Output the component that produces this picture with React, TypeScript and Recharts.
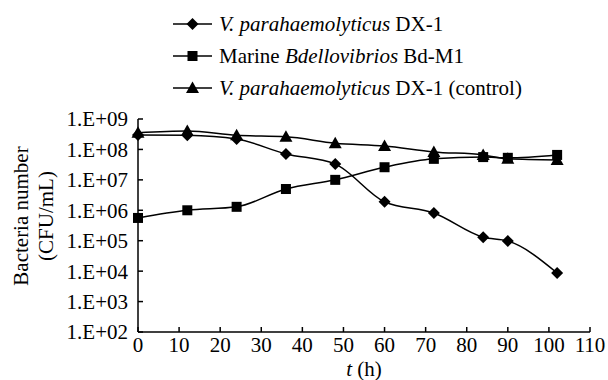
import React from 'react';
import { LineChart, Line, XAxis, YAxis } from 'recharts';

const hours = [0, 12, 24, 36, 48, 60, 72, 84, 90, 102];
const vpDx1 = [3.0e8, 2.9e8, 2.2e8, 7.1e7, 3.3e7, 1.9e6, 8.1e5, 1.3e5, 9.8e4, 8.7e3];
const bdM1 = [5.6e5, 1.0e6, 1.3e6, 5.0e6, 1.0e7, 2.6e7, 4.9e7, 5.6e7, 5.3e7, 6.6e7];
const vpControl = [3.5e8, 4.0e8, 2.9e8, 2.6e8, 1.6e8, 1.3e8, 8.3e7, 6.6e7, 4.9e7, 4.5e7];

const xTicks = [0, 10, 20, 30, 40, 50, 60, 70, 80, 90, 100, 110];
const yTicks = [1e2, 1e3, 1e4, 1e5, 1e6, 1e7, 1e8, 1e9];

const FONT = '"Liberation Serif", "Times New Roman", serif';

const data = hours.map((t, i) => ({
  t,
  vp: vpDx1[i],
  bd: bdM1[i],
  ctrl: vpControl[i],
}));

type Marker = 'diamond' | 'square' | 'triangle';

const series: { key: string; marker: Marker; name: [string, string, string] }[] = [
  { key: 'vp', marker: 'diamond', name: ['', 'V. parahaemolyticus', ' DX-1'] },
  { key: 'bd', marker: 'square', name: ['Marine ', 'Bdellovibrios', ' Bd-M1'] },
  { key: 'ctrl', marker: 'triangle', name: ['', 'V. parahaemolyticus', ' DX-1 (control)'] },
];

function MarkerShape({ type, cx, cy }: { type: Marker; cx: number; cy: number }) {
  if (type === 'diamond') {
    const r = 6;
    return <path d={`M${cx},${cy - r}L${cx + r},${cy}L${cx},${cy + r}L${cx - r},${cy}Z`} fill="#000" />;
  }
  if (type === 'square') {
    const r = 5;
    return <rect x={cx - r} y={cy - r} width={r * 2} height={r * 2} fill="#000" />;
  }
  return <path d={`M${cx},${cy - 6.5}L${cx + 6.5},${cy + 5}L${cx - 6.5},${cy + 5}Z`} fill="#000" />;
}

const fmtY = (v: number) => {
  const e = Math.round(Math.log10(v));
  return `1.E+${e < 10 ? '0' + e : e}`;
};

function Legend() {
  return (
    <div style={{ position: 'absolute', left: 173, top: 8, fontFamily: FONT, fontSize: 21, color: '#000' }}>
      {series.map((s) => (
        <div key={s.key} style={{ display: 'flex', alignItems: 'center', height: 32, whiteSpace: 'nowrap' }}>
          <svg width={46} height={16} style={{ display: 'block' }}>
            <line x1={0} y1={8} x2={39} y2={8} stroke="#000" strokeWidth={1.5} />
            <MarkerShape type={s.marker} cx={19.5} cy={8} />
          </svg>
          <span>
            {s.name[0]}
            <i>{s.name[1]}</i>
            {s.name[2]}
          </span>
        </div>
      ))}
    </div>
  );
}

export default function App() {
  return (
    <div style={{ position: 'absolute', left: 0, top: 0, width: 608, height: 380, background: '#fff' }}>
      <Legend />
      <LineChart width={608} height={380} data={data} margin={{ top: 119, right: 18, left: 0, bottom: 0 }}>
        <XAxis
          dataKey="t"
          type="number"
          domain={[0, 110]}
          ticks={xTicks}
          height={48}
          stroke="#000"
          strokeWidth={1.5}
          tickSize={-5}
          tickMargin={10}
          tick={{ fill: '#000', fontFamily: FONT, fontSize: 21 }}
          label={{
            content: (p: any) => (
              <text
                x={p.viewBox.x + p.viewBox.width / 2}
                y={p.viewBox.y + 44}
                textAnchor="middle"
                fontFamily={FONT}
                fontSize={21}
                fill="#000"
              >
                <tspan fontStyle="italic">t</tspan>
                <tspan> (h)</tspan>
              </text>
            ),
          }}
        />
        <YAxis
          scale="log"
          domain={[1e2, 1e9]}
          ticks={yTicks}
          allowDataOverflow
          width={138}
          stroke="#000"
          strokeWidth={1.5}
          tickSize={-5}
          tickMargin={15}
          tickFormatter={fmtY}
          tick={{ fill: '#000', fontFamily: FONT, fontSize: 21 }}
          label={{
            content: () => (
              <g fontFamily={FONT} fontSize={21} fill="#000">
                <text x={28} y={216} textAnchor="middle" transform="rotate(-90 28 216)">
                  Bacteria number
                </text>
                <text x={53} y={216} textAnchor="middle" transform="rotate(-90 53 216)">
                  (CFU/mL)
                </text>
              </g>
            ),
          }}
        />
        {series.map((s) => (
          <Line
            key={s.key}
            type="monotone"
            dataKey={s.key}
            stroke="#000"
            strokeWidth={1.5}
            isAnimationActive={false}
            dot={(p: any) => <MarkerShape key={`${s.key}-${p.index}`} type={s.marker} cx={p.cx} cy={p.cy} />}
            activeDot={false}
          />
        ))}
      </LineChart>
    </div>
  );
}
